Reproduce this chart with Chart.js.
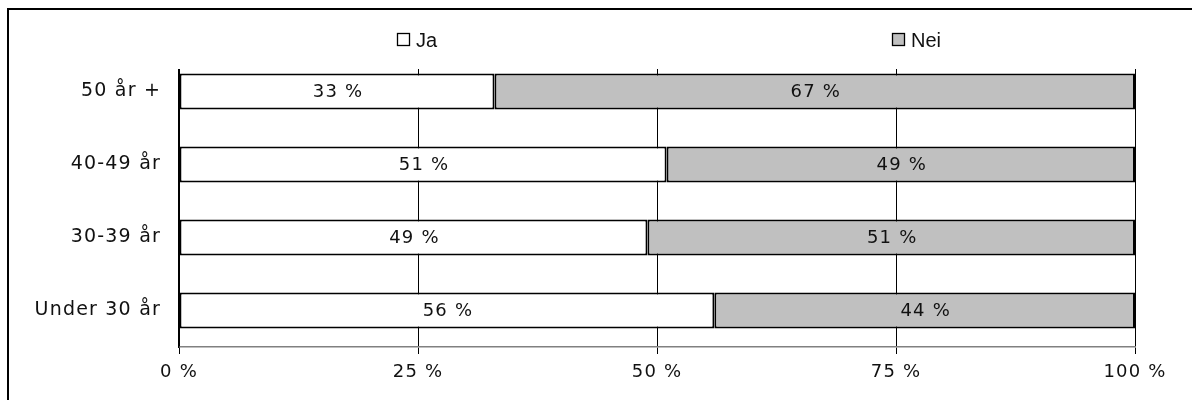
<!DOCTYPE html>
<html>
<head>
<meta charset="utf-8">
<script src="https://cdn.jsdelivr.net/npm/chart.js@4"></script>
<style>
  html, body { margin: 0; padding: 0; background: #fff; }
  #wrap { width: 1192px; height: 400px; }
</style>
</head>
<body>
<div id="wrap"><canvas id="chart" width="1192" height="400"></canvas></div>
<script>
// age groups, top to bottom
const categories = ['50 år +', '40-49 år', '30-39 år', 'Under 30 år']
const seriesNames = ['Ja', 'Nei']
const ja = [33, 51, 49, 56]
const nei = [67, 49, 51, 44]
const xTicks = [0, 25, 50, 75, 100]

const colors = ['#FFFFFF', '#C0C0C0']
const textColor = '#111'
const mainFont = '"DejaVu Sans", Verdana, sans-serif'

Chart.defaults.font.family = mainFont
Chart.defaults.font.size = 18
Chart.defaults.color = textColor

// frame, value labels and the legend row
const extras = {
  id: 'extras',
  beforeDraw(chart) {
    const c = chart.ctx
    c.save()
    c.fillStyle = '#fff'
    c.fillRect(0, 0, chart.width, chart.height)
    c.restore()
    c.letterSpacing = '1.2px'
  },
  beforeDatasetsDraw(chart) {
    // legend band sits over the top of the plot area
    const a = chart.chartArea
    const c = chart.ctx
    c.save()
    c.fillStyle = '#fff'
    c.fillRect(a.left - 3, a.top - 1, a.right - a.left + 6, 15)
    c.restore()
  },
  afterDatasetsDraw(chart) {
    const c = chart.ctx
    c.save()
    c.font = '18px ' + mainFont
    c.fillStyle = textColor
    c.textAlign = 'center'
    c.textBaseline = 'middle'
    chart.data.datasets.forEach((ds, i) => {
      chart.getDatasetMeta(i).data.forEach((bar, j) => {
        const p = bar.getProps(['x', 'y', 'base'], true)
        c.fillText(ds.data[j] + ' %', (p.x + p.base) / 2 + 1, p.y + 1)
      })
    })
    c.restore()
  },
  afterDraw(chart) {
    const c = chart.ctx
    c.save()
    c.letterSpacing = '0px'
    // outer frame: top and left edges
    c.strokeStyle = '#000'
    c.lineWidth = 2
    c.beginPath()
    c.moveTo(chart.width, 9)
    c.lineTo(8, 9)
    c.lineTo(8, chart.height)
    c.stroke()

    // legend
    const spots = [397, 892]
    c.font = '20px "Liberation Sans", Arial, sans-serif'
    c.textBaseline = 'middle'
    c.textAlign = 'left'
    seriesNames.forEach((name, i) => {
      const x = spots[i]
      c.fillStyle = colors[i]
      c.fillRect(x + 0.5, 33.5, 12, 12)
      c.strokeStyle = '#000'
      c.lineWidth = 1.3
      c.strokeRect(x + 0.5, 33.5, 12, 12)
      c.fillStyle = textColor
      c.fillText(name, x + 19, 41)
    })
    c.restore()
  }
}

new Chart(document.getElementById('chart'), {
  type: 'bar',
  data: {
    labels: categories,
    datasets: [
      { label: seriesNames[0], data: ja, backgroundColor: colors[0] },
      { label: seriesNames[1], data: nei, backgroundColor: colors[1] }
    ]
  },
  options: {
    indexAxis: 'y',
    responsive: false,
    animation: false,
    devicePixelRatio: 1,
    layout: { padding: { top: 55, right: 57, left: 0, bottom: 0 } },
    datasets: {
      bar: {
        borderColor: '#000',
        borderWidth: 2,
        borderSkipped: false,
        categoryPercentage: 1,
        barPercentage: 0.49
      }
    },
    plugins: {
      legend: { display: false },
      tooltip: { enabled: false }
    },
    scales: {
      x: {
        stacked: true,
        min: 0,
        max: 100,
        afterFit(scale) { scale.height = 53 },
        afterBuildTicks(scale) { scale.ticks = xTicks.map(v => ({ value: v })) },
        grid: { color: '#000', lineWidth: 1, tickLength: 7, drawTicks: true },
        border: { display: true, color: '#808080', width: 1.5 },
        ticks: {
          padding: 8,
          maxRotation: 0,
          callback: v => v + ' %'
        }
      },
      y: {
        stacked: true,
        afterFit(scale) { scale.width = 179 },
        grid: { display: false, drawTicks: false },
        border: { display: true, color: '#000', width: 1.5 },
        ticks: { padding: 18, font: { size: 19 } }
      }
    }
  },
  plugins: [extras]
})
</script>
</body>
</html>
